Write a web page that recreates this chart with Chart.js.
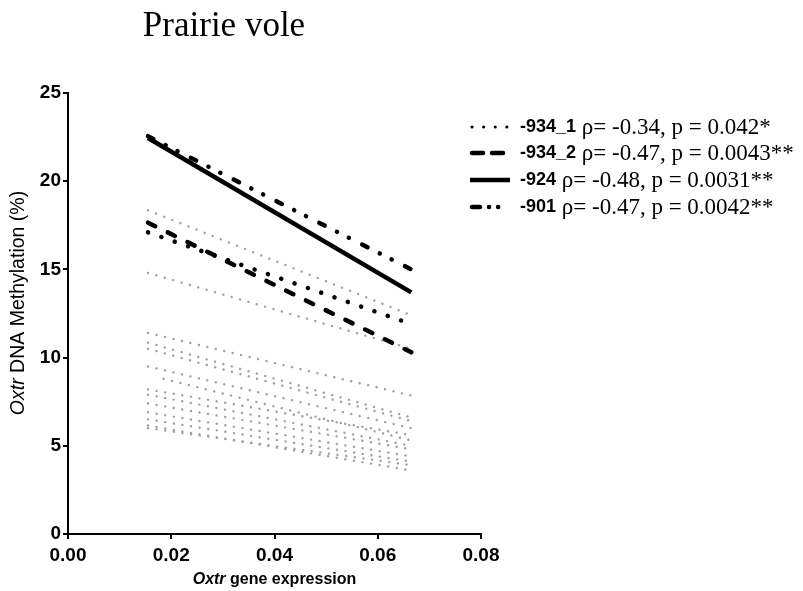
<!DOCTYPE html>
<html>
<head>
<meta charset="utf-8">
<script src="https://cdn.jsdelivr.net/npm/chart.js@4"></script>
<style>
  body { margin: 0; background: #fff; }
  canvas { display: block; }
</style>
</head>
<body>
<canvas id="chart" width="803" height="591"></canvas>
<script>
// regression line ends (x = Oxtr gene expression)
const xStart = 0.0155;
const xEnd = 0.0665;

// the four highlighted CpG sites
const siteNames = ['-934_1', '-934_2', '-924', '-901'];
const siteStats = ['\u03C1= -0.34, p = 0.042*', '\u03C1= -0.47, p = 0.0043**', '\u03C1= -0.48, p = 0.0031**', '\u03C1= -0.47, p = 0.0042**'];
const siteStart = [17.1, 17.65, 22.45, 22.55];
const siteEnd = [11.9, 10.3, 13.7, 15.0];

// other (grey) sites
const greyStartX = [0.0155, 0.0155, 0.0155, 0.0155, 0.0155, 0.0155, 0.0185, 0.0155, 0.0155, 0.0155, 0.0155, 0.0155, 0.0155, 0.0155];
const greyStart = [18.35, 14.8, 11.4, 10.85, 10.5, 9.5, 8.8, 8.2, 7.9, 7.4, 6.9, 6.5, 6.15, 6.0];
const greyEnd = [12.4, 10.5, 7.85, 6.6, 6.4, 6.0, 5.3, 5.6, 5.0, 4.8, 4.4, 4.1, 3.6, 3.9];

const xTicks = [0, 0.02, 0.04, 0.06, 0.08];
const yTicks = [0, 5, 10, 15, 20, 25];

const siteDash = [[0.1, 14], [8, 14], [], [6, 13.7, 0.1, 13.2, 0.1, 14.9]];

const datasets = [];
siteNames.forEach((n, i) => {
  datasets.push({
    label: n,
    data: [{x: xStart, y: siteStart[i]}, {x: xEnd, y: siteEnd[i]}],
    borderColor: '#000',
    borderWidth: 4.5,
    borderDash: siteDash[i],
    borderCapStyle: i == 2 ? 'butt' : 'round',
    showLine: true,
    pointRadius: 0
  });
});
greyStart.forEach((v, i) => {
  datasets.push({
    label: 'grey' + i,
    data: [{x: greyStartX[i], y: v}, {x: xEnd, y: greyEnd[i]}],
    borderColor: '#a0a0a0',
    borderWidth: 2.4,
    borderDash: [0.1, 8.6],
    borderCapStyle: 'round',
    showLine: true,
    pointRadius: 0
  });
});

const serif = '"Liberation Serif", "Times New Roman", serif';
const sans = '"Liberation Sans", Arial, sans-serif';

const extras = {
  id: 'extras',
  afterDraw(chart) {
    const c = chart.ctx;
    const a = chart.chartArea;
    c.save();
    c.fillStyle = '#000';
    // title
    c.font = '35px ' + serif;
    c.textAlign = 'center';
    c.textBaseline = 'alphabetic';
    c.fillText('Prairie vole', 224, 36);

    // x title
    c.textBaseline = 'middle';
    c.textAlign = 'left';
    c.font = 'italic bold 16px ' + sans;
    const w1 = c.measureText('Oxtr').width;
    c.font = 'bold 16px ' + sans;
    const w2 = c.measureText(' gene expression').width;
    let x0 = (a.left + a.right) / 2 - (w1 + w2) / 2;
    c.font = 'italic bold 16px ' + sans;
    c.fillText('Oxtr', x0, 580);
    c.font = 'bold 16px ' + sans;
    c.fillText(' gene expression', x0 + w1, 580);

    // y title
    c.save();
    c.translate(19, 303);
    c.rotate(-Math.PI / 2);
    c.font = 'italic 19.5px ' + sans;
    const w3 = c.measureText('Oxtr').width;
    c.font = '19.5px ' + sans;
    const w4 = c.measureText(' DNA Methylation (%)').width;
    x0 = -(w3 + w4) / 2;
    c.font = 'italic 19.5px ' + sans;
    c.fillText('Oxtr', x0, 0);
    c.font = '19.5px ' + sans;
    c.fillText(' DNA Methylation (%)', x0 + w3, 0);
    c.restore();

    // legend
    const rows = [127, 153, 180, 207];
    const legDash = [[0.1, 11.5], [11, 9], [], [8, 9, 0.1, 9, 0.1, 20]];
    siteNames.forEach((n, i) => {
      const y = rows[i];
      c.strokeStyle = '#000';
      c.lineWidth = i == 0 ? 3 : 4.5;
      c.lineCap = i == 2 ? 'butt' : 'round';
      c.setLineDash(legDash[i]);
      c.beginPath();
      c.moveTo(i == 2 ? 470 : 472, y);
      c.lineTo(i == 2 ? 510 : 508, y);
      c.stroke();
      c.setLineDash([]);
      c.font = 'bold 18px ' + sans;
      c.fillText(n, 520, y);
      const w = c.measureText(n).width;
      c.font = '23px ' + serif;
      c.fillText(' ' + siteStats[i], 520 + w, y + 1);
    });
    c.restore();
  }
};

new Chart(document.getElementById('chart'), {
  type: 'scatter',
  data: { datasets: datasets },
  plugins: [extras],
  options: {
    responsive: false,
    animation: false,
    layout: { padding: { left: 0, top: 93, right: 322, bottom: 0 } },
    plugins: { legend: { display: false }, tooltip: { enabled: false } },
    scales: {
      x: {
        type: 'linear',
        min: 0,
        max: 0.08,
        afterFit(s) { s.height = 57; },
        afterBuildTicks(s) { s.ticks = xTicks.map(v => ({value: v})); },
        grid: { drawOnChartArea: false, drawTicks: true, tickLength: 5, color: '#000', lineWidth: 2 },
        border: { color: '#000', width: 2 },
        ticks: {
          color: '#000',
          padding: 5,
          maxRotation: 0,
          font: { family: sans, size: 19, weight: 'bold' },
          callback: v => v.toFixed(2)
        }
      },
      y: {
        min: 0,
        max: 25,
        afterFit(s) { s.width = 68; },
        afterBuildTicks(s) { s.ticks = yTicks.map(v => ({value: v})); },
        grid: { drawOnChartArea: false, drawTicks: true, tickLength: 5, color: '#000', lineWidth: 2 },
        border: { color: '#000', width: 2 },
        ticks: {
          color: '#000',
          padding: 2,
          font: { family: sans, size: 19, weight: 'bold' }
        }
      }
    }
  }
});
</script>
</body>
</html>
